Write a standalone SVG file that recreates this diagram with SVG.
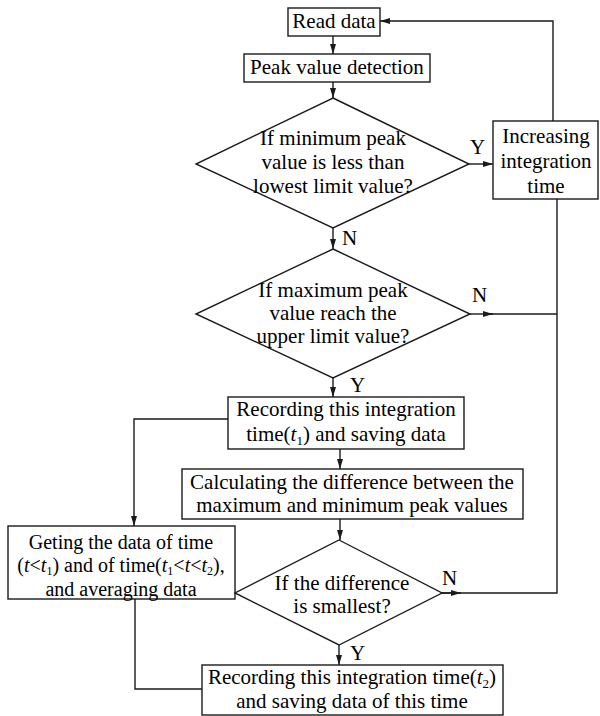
<svg xmlns="http://www.w3.org/2000/svg" width="600" height="716" viewBox="0 0 600 716">
<defs>
<marker id="ah" viewBox="0 0 10 6" refX="10" refY="3" markerWidth="10" markerHeight="6" markerUnits="userSpaceOnUse" orient="auto">
<path d="M0,0 L10,3 L0,6 z" fill="#1a1a1a"/>
</marker>
<style>
.b{fill:#fff;stroke:#1a1a1a;stroke-width:1.4}
.c{fill:none;stroke:#1a1a1a;stroke-width:1.4}
text{font-family:"Liberation Serif","Times New Roman",serif;font-size:21px;fill:#000;text-anchor:middle}
.l{text-anchor:start}
.s{font-size:13px}
.t{font-size:12px}
.g{font-size:20px}
.i{font-style:italic}
</style>
</defs>
<rect width="600" height="716" fill="#fff"/>
<g id="connectors">
<line class="c" x1="333" y1="36" x2="333" y2="54" marker-end="url(#ah)"/>
<line class="c" x1="333" y1="82" x2="333" y2="98" marker-end="url(#ah)"/>
<line class="c" x1="469" y1="164" x2="493" y2="164" marker-end="url(#ah)"/>
<polyline class="c" points="553,121 553,21 380,21" marker-end="url(#ah)"/>
<line class="c" x1="333" y1="228" x2="333" y2="249" marker-end="url(#ah)"/>
<line class="c" x1="470" y1="314" x2="493" y2="314" marker-end="url(#ah)"/>
<polyline class="c" points="490,314 557,314"/>
<polyline class="c" points="557,199 557,593 442,593"/>
<line class="c" x1="442" y1="593" x2="461" y2="593" marker-end="url(#ah)"/>
<line class="c" x1="333" y1="378" x2="333" y2="397" marker-end="url(#ah)"/>
<line class="c" x1="340" y1="449" x2="340" y2="469" marker-end="url(#ah)"/>
<polyline class="c" points="228,419 134,419 134,526" marker-end="url(#ah)"/>
<line class="c" x1="340" y1="519" x2="340" y2="540" marker-end="url(#ah)"/>
<line class="c" x1="339" y1="645" x2="339" y2="665" marker-end="url(#ah)"/>
<polyline class="c" points="135,599 135,689 202,689"/>
<text class="l" x="470" y="154">Y</text>
<text class="l" x="342" y="245">N</text>
<text class="l" x="472" y="302">N</text>
<text class="l" x="350" y="392">Y</text>
<text class="l" x="442" y="585">N</text>
<text class="l" x="350" y="660">Y</text>
</g>
<g id="read">
<rect class="b" x="288" y="8" width="92" height="28"/>
<text x="334" y="28">Read data</text>
</g>
<g id="peak">
<rect class="b" x="244" y="54" width="186" height="28"/>
<text x="337" y="74">Peak value detection</text>
</g>
<g id="d1">
<polygon class="b" points="333,98 469,164 333,228 196,164"/>
<text x="333" y="145">If minimum peak</text>
<text x="333" y="169">value is less than</text>
<text x="333" y="193">lowest limit value?</text>
</g>
<g id="inc">
<rect class="b" x="493" y="121" width="105" height="78"/>
<text x="546" y="143">Increasing</text>
<text x="546" y="168">integration</text>
<text x="546" y="193">time</text>
</g>
<g id="d2">
<polygon class="b" points="333,249 470,314 333,378 196,314"/>
<text x="333" y="297">If maximum peak</text>
<text x="333" y="320">value reach the</text>
<text x="333" y="343">upper limit value?</text>
</g>
<g id="rec1">
<rect class="b" x="228" y="397" width="236" height="52"/>
<text x="346" y="416">Recording this integration</text>
<text x="346" y="441">time(<tspan class="i">t</tspan><tspan class="s" dy="4">1</tspan><tspan dy="-4">) and saving data</tspan></text>
</g>
<g id="calc">
<rect class="b" x="182" y="469" width="341" height="50"/>
<text x="352" y="489">Calculating the difference between the</text>
<text x="352" y="512">maximum and minimum peak values</text>
</g>
<g id="get">
<rect class="b" x="8" y="526" width="227" height="73"/>
<text class="g" x="121" y="549">Geting the data of time</text>
<text class="g" x="121" y="572">(<tspan class="i">t</tspan>&lt;<tspan class="i">t</tspan><tspan class="t" dy="3">1</tspan><tspan dy="-3">) and of time(</tspan><tspan class="i">t</tspan><tspan class="t" dy="3">1</tspan><tspan dy="-3">&lt;</tspan><tspan class="i">t</tspan>&lt;<tspan class="i">t</tspan><tspan class="t" dy="3">2</tspan><tspan dy="-3">),</tspan></text>
<text class="g" x="121" y="596">and averaging data</text>
</g>
<g id="d3">
<polygon class="b" points="339,540 442,593 339,645 235,593"/>
<text x="342" y="590">If the difference</text>
<text x="342" y="613">is smallest?</text>
</g>
<g id="rec2">
<rect class="b" x="202" y="665" width="301" height="50"/>
<text x="352" y="684">Recording this integration time(<tspan class="i">t</tspan><tspan class="s" dy="4">2</tspan><tspan dy="-4">)</tspan></text>
<text x="352" y="708">and saving data of this time</text>
</g>
</svg>
